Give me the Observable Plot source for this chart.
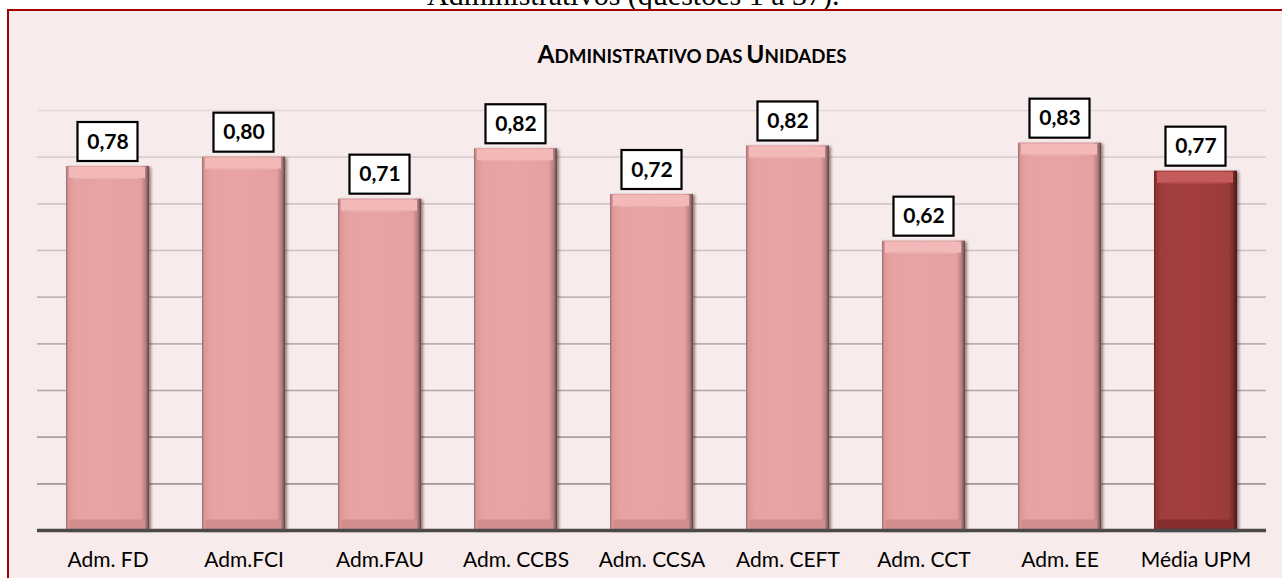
<!DOCTYPE html>
<html>
<head>
<meta charset="utf-8">
<script src="https://cdn.jsdelivr.net/npm/d3@7"></script>
<script src="https://cdn.jsdelivr.net/npm/@observablehq/plot@0.6"></script>
<style>
  html, body { margin: 0; padding: 0; background: #ffffff; overflow: hidden; }
  #wrap { position: relative; width: 1282px; height: 578px; overflow: hidden; }
  #heading { position: absolute; left: 427px; top: -20px; font-family: "Liberation Serif", "Times New Roman", serif; font-size: 30px; line-height: 30px; color: #000; white-space: nowrap; }
  #box { position: absolute; left: 7px; top: 9px; width: 1300px; height: 600px; background: #f8ebeb; border-top: 2.5px solid #a30000; border-left: 2px solid #a30000; }
  #title { position: absolute; left: 0; width: 1384px; top: 40px; text-align: center; font-family: Lato, sans-serif; font-weight: bold; color: #000; white-space: nowrap; line-height: 27px; }
  #title .big { font-size: 24.5px; }
  #title .small { font-size: 18.7px; }
  #chart { position: absolute; left: 0; top: 0; }
</style>
</head>
<body>
<div id="wrap">
  <div id="heading"></div>
  <div id="box"></div>
  <div id="title"></div>
  <div id="chart"></div>
</div>
<script>
// ---- data ----
const pageHeading = "Administrativos (questões 1 a 37).";
const chartTitle = "Administrativo das Unidades";
const units = ["Adm. FD", "Adm.FCI", "Adm.FAU", "Adm. CCBS", "Adm. CCSA", "Adm. CEFT", "Adm. CCT", "Adm. EE", "Média UPM"];
const values = [0.78, 0.80, 0.71, 0.818, 0.72, 0.824, 0.62, 0.83, 0.77];
const highlighted = ["Média UPM"];
const gridValues = [0.1, 0.2, 0.3, 0.4, 0.5, 0.6, 0.7, 0.8, 0.9];

// ---- headings ----
document.getElementById("heading").textContent = pageHeading;
const titleEl = document.getElementById("title");
chartTitle.split(" ").forEach((word, i) => {
  if (i > 0) titleEl.appendChild(document.createTextNode(" "));
  const first = word[0];
  const rest = word.slice(1);
  const isCap = first === first.toUpperCase();
  const b = document.createElement("span");
  b.className = isCap ? "big" : "small";
  b.textContent = first.toUpperCase();
  const s = document.createElement("span");
  s.className = "small";
  s.textContent = rest.toUpperCase();
  titleEl.appendChild(b);
  titleEl.appendChild(s);
});

const data = units.map((u, i) => ({unit: u, value: values[i], avg: highlighted.includes(u)}));
const fmt = v => d3.format(".2f")(v).replace(".", ",");

const defs = () => {
  const ns = "http://www.w3.org/2000/svg";
  const d = document.createElementNS(ns, "defs");
  const mk = (id, stops) => {
    const g = document.createElementNS(ns, "linearGradient");
    g.setAttribute("id", id);
    g.setAttribute("x1", "0"); g.setAttribute("x2", "1");
    g.setAttribute("y1", "0"); g.setAttribute("y2", "0");
    stops.forEach(([o, c]) => {
      const s = document.createElementNS(ns, "stop");
      s.setAttribute("offset", o);
      s.setAttribute("stop-color", c);
      g.appendChild(s);
    });
    d.appendChild(g);
  };
  mk("gLight", [["0", "#9c6e6e"], ["0.03", "#dc9898"], ["0.10", "#e6a2a2"], ["0.5", "#e8a4a4"], ["0.90", "#e4a0a0"], ["0.96", "#b77d7d"], ["1", "#5e4545"]]);
  mk("gDark", [["0", "#6e2424"], ["0.03", "#973535"], ["0.10", "#a03d3d"], ["0.5", "#a33e3e"], ["0.90", "#9b3a3a"], ["0.96", "#742929"], ["1", "#3e1a1a"]]);
  return d;
};

const chart = Plot.plot({
  width: 1282,
  height: 578,
  marginLeft: 37,
  marginRight: 16,
  marginTop: 110,
  marginBottom: 48,
  style: {background: "transparent", fontFamily: "Lato, sans-serif", fontSize: "21px", color: "#000"},
  x: {domain: units, paddingInner: 0.39, paddingOuter: 0.19, label: null},
  y: {domain: [0, 0.9], axis: null},
  color: {type: "identity"},
  marks: [
    defs,
    Plot.ruleY(gridValues, {stroke: d => d3.interpolateRgb("#9a8f8f", "#e0d7d7")(d / 0.9), strokeWidth: 1.6}),
    Plot.barY(data, {filter: d => !d.avg, x: "unit", y: "value", fill: "url(#gLight)"}),
    Plot.barY(data, {filter: d => d.avg, x: "unit", y: "value", fill: "url(#gDark)"}),
    Plot.tickY(data, {x: "unit", y: "value", dy: 6, strokeWidth: 11, insetLeft: 3, insetRight: 4, stroke: d => d.avg ? "#c45a5a" : "#f3b9b9"}),
    Plot.tickY(data, {x: "unit", y: "value", dy: 12, strokeWidth: 1.2, insetLeft: 9, insetRight: 10, stroke: d => d.avg ? "#b24b4b" : "#eaaeae"}),
    Plot.tickY(data, {x: "unit", y: () => 0, dy: -6, strokeWidth: 10, insetLeft: 3, insetRight: 4, stroke: d => d.avg ? "#862e2e" : "#d28e8e"}),
    Plot.ruleY([0], {stroke: "#4a4a4a", strokeWidth: 3.5}),
    Plot.barY(data, {x: "unit", y1: "value", y2: "value", insetTop: -44, insetBottom: 5, insetLeft: 11.5, insetRight: 11.5, fill: "#ffffff", stroke: "#000000", strokeWidth: 2.2}),
    Plot.text(data, {x: "unit", y: "value", text: d => fmt(d.value), dy: -24.5, lineAnchor: "middle", fontWeight: "bold", fontSize: 21, fill: "#000"}),
    Plot.axisX({tickSize: 0, tickPadding: 22, fontSize: 21, fill: "#000", label: null})
  ]
});
document.getElementById("chart").appendChild(chart);
const barGroups = chart.querySelectorAll('g[aria-label="bar"]');
[0, 1].forEach(i => { if (barGroups[i]) barGroups[i].style.filter = "drop-shadow(2px 1px 1.5px rgba(60,30,30,0.55))"; });
</script>
</body>
</html>
